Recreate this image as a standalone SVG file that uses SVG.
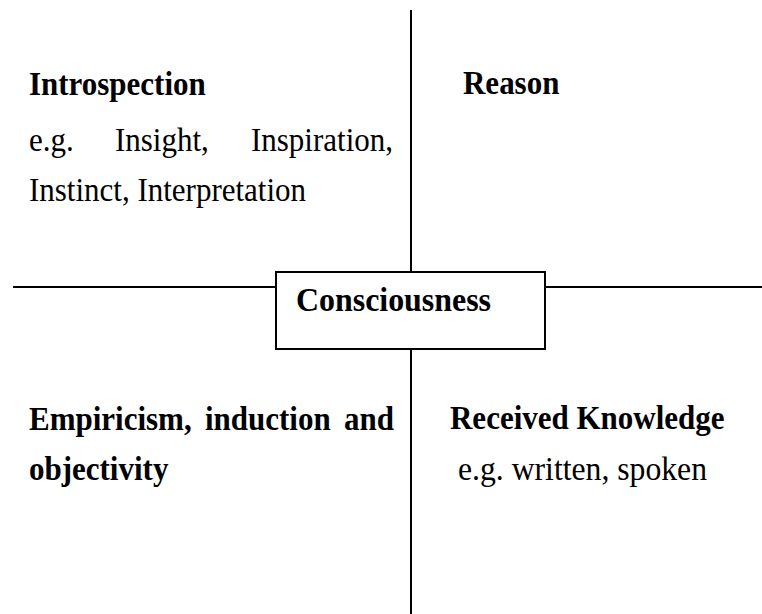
<svg xmlns="http://www.w3.org/2000/svg" width="762" height="614" viewBox="0 0 762 614">
<style>
.t{font-family:"Liberation Serif","Times New Roman",serif;font-size:31px;fill:#000}
.b{font-weight:bold}
.ln{stroke:#000;stroke-width:2;fill:none}
</style>
<rect width="762" height="614" fill="#fff"/>
<g id="connectors">
<line class="ln" x1="411" y1="10" x2="411" y2="272"/>
<line class="ln" x1="411" y1="349" x2="411" y2="614"/>
<line class="ln" x1="13" y1="287" x2="276" y2="287"/>
<line class="ln" x1="545" y1="287" x2="762" y2="287"/>
</g>
<g id="consciousness">
<rect x="276" y="272" width="269" height="77" fill="#fff" stroke="#000" stroke-width="2"/>
<text class="t b" transform="translate(296,311) scale(1,1.09)" textLength="195" lengthAdjust="spacingAndGlyphs">Consciousness</text>
</g>
<g id="introspection">
<text class="t b" transform="translate(29,95) scale(1,1.09)">Introspection</text>
<text class="t" transform="translate(29,151) scale(1,1.09)">e.g.</text>
<text class="t" transform="translate(115,151) scale(1,1.09)">Insight,</text>
<text class="t" transform="translate(251,151) scale(1,1.09)">Inspiration,</text>
<text class="t" transform="translate(29,201) scale(1,1.09)">Instinct, Interpretation</text>
</g>
<g id="reason">
<text class="t b" transform="translate(463,94) scale(1,1.09)">Reason</text>
</g>
<g id="empiricism">
<text class="t b" transform="translate(29,430) scale(1,1.09)">Empiricism,</text>
<text class="t b" transform="translate(205,430) scale(1,1.09)">induction</text>
<text class="t b" transform="translate(344,430) scale(1,1.09)">and</text>
<text class="t b" transform="translate(29,480) scale(1,1.09)">objectivity</text>
</g>
<g id="received">
<text class="t b" transform="translate(450,429) scale(1,1.09)">Received Knowledge</text>
<text class="t" transform="translate(458,480) scale(1,1.09)" textLength="249" lengthAdjust="spacingAndGlyphs">e.g. written, spoken</text>
</g>
</svg>
